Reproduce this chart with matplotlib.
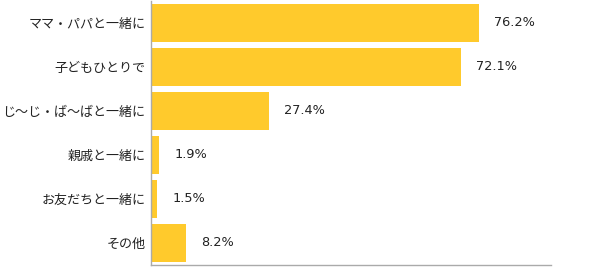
import matplotlib
matplotlib.use("Agg")
import matplotlib.pyplot as plt

plt.rcParams['font.family'] = ['Noto Sans CJK JP', 'DejaVu Sans']

categories = ["ママ・パパと一緒に", "子どもひとりで", "じ～じ・ば～ばと一緒に",
              "親戚と一緒に", "お友だちと一緒に", "その他"]
values = [76.2, 72.1, 27.4, 1.9, 1.5, 8.2]
labels = ["76.2%", "72.1%", "27.4%", "1.9%", "1.5%", "8.2%"]

fig = plt.figure(figsize=(6, 2.68), dpi=100)
ax = fig.add_axes([151/600, 3/268, 400/600, 264/268])
y = list(range(len(categories)))
ax.barh(y, values, height=0.86, color='#FFCA2C')
ax.set_ylim(len(categories) - 0.5, -0.5)
ax.set_xlim(0, 93.0)
for yi, v, lab in zip(y, values, labels):
    ax.text(v + 3.5, yi, lab, va='center', ha='left', fontsize=9.3,
            family=['DejaVu Sans'], color='#222222')
ax.set_yticks(y)
ax.set_yticklabels(categories, fontsize=9.4, color='#222222')
ax.tick_params(axis='y', length=0, pad=4)
ax.set_xticks([])
for s in ['top', 'right']:
    ax.spines[s].set_visible(False)
for s in ['left', 'bottom']:
    ax.spines[s].set_color('#aaaaaa')
    ax.spines[s].set_linewidth(1)
fig.savefig('out.png', dpi=100)
